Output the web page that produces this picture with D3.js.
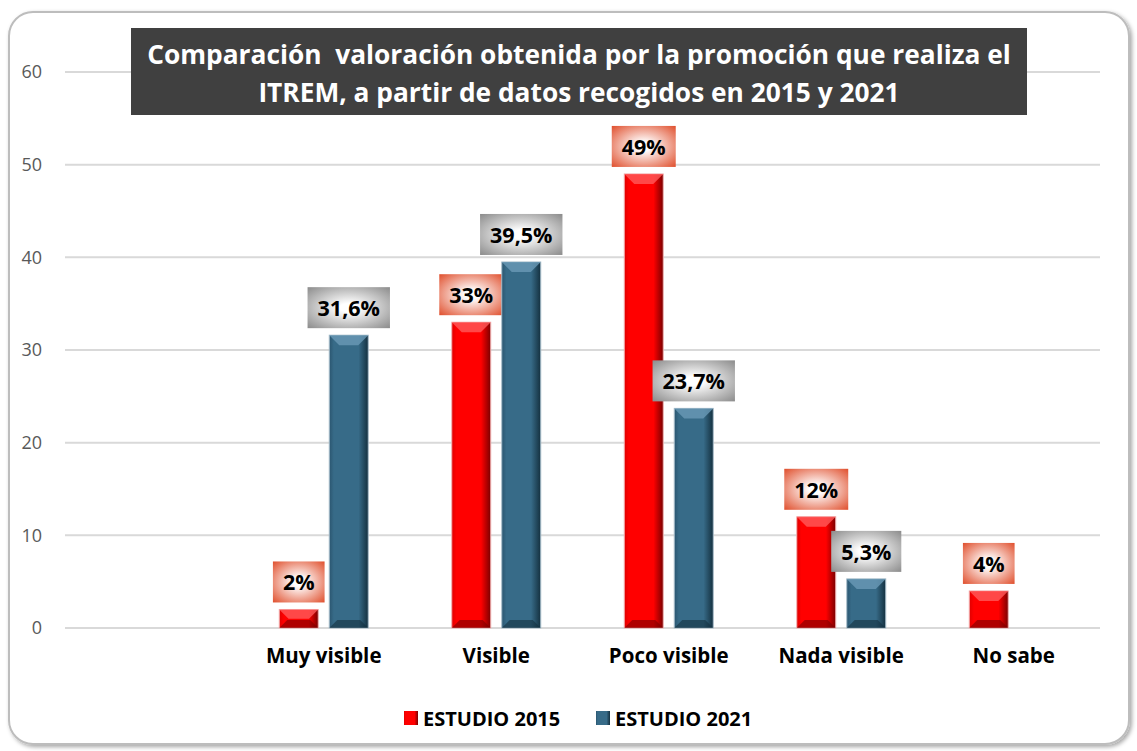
<!DOCTYPE html>
<html>
<head>
<meta charset="utf-8">
<script src="https://cdn.jsdelivr.net/npm/d3@7"></script>
<style>
  body { margin: 0; background: #ffffff; }
  svg text { font-family: "Open Sans", Lato, sans-serif; }
</style>
</head>
<body>
<div id="chart"></div>
<script>
// categories (first band is empty in the original sheet)
var categories = ["", "Muy visible", "Visible", "Poco visible", "Nada visible", "No sabe"];
var seriesNames = ["ESTUDIO 2015", "ESTUDIO 2021"];
var values2015 = [null, 2, 33, 49, 12, 4];
var values2021 = [null, 31.6, 39.5, 23.7, 5.3, null];
var labels2015 = ["", "2%", "33%", "49%", "12%", "4%"];
var labels2021 = ["", "31,6%", "39,5%", "23,7%", "5,3%", ""];
var yTicks = [0, 10, 20, 30, 40, 50, 60];
var titleLines = ["Comparación  valoración obtenida por la promoción que realiza el",
                  "ITREM, a partir de datos recogidos en 2015 y 2021"];

var W = 1137, H = 751;
var margin = {top: 72, right: 30, bottom: 123, left: 65};

var svg = d3.select("#chart").append("svg")
    .attr("width", W)
    .attr("height", H);

var defs = svg.append("defs");

// frame shadow
var shadow = defs.append("filter").attr("id", "shadow")
    .attr("x", "-5%").attr("y", "-5%").attr("width", "110%").attr("height", "110%");
shadow.append("feDropShadow").attr("dx", 2).attr("dy", 2).attr("stdDeviation", 2)
    .attr("flood-color", "#000").attr("flood-opacity", 0.35);

svg.append("rect")
    .attr("x", 9).attr("y", 12)
    .attr("width", 1120).attr("height", 732)
    .attr("rx", 24)
    .attr("fill", "#ffffff")
    .attr("stroke", "#bdbdbd")
    .attr("stroke-width", 2)
    .attr("filter", "url(#shadow)");

//bar gradients: dark on the right edge like the bevel in excel
var palette = [
    {id: "g2015", base: "#ff0000", dark: "#7a0000", light: "#ff5a5a", edge: "#e00000", boxEdge: "#e0502e"},
    {id: "g2021", base: "#376b88", dark: "#14303f", light: "#6a9ab6", edge: "#2b5670", boxEdge: "#8c8c8c"}
];
palette.forEach(function(p) {
    var g = defs.append("linearGradient").attr("id", p.id)
        .attr("x1", "0%").attr("x2", "100%").attr("y1", "0%").attr("y2", "0%");
    g.append("stop").attr("offset", "0%").attr("stop-color", p.edge);
    g.append("stop").attr("offset", "12%").attr("stop-color", p.base);
    g.append("stop").attr("offset", "75%").attr("stop-color", p.base);
    g.append("stop").attr("offset", "100%").attr("stop-color", p.dark);

    var r = defs.append("radialGradient").attr("id", p.id + "box")
        .attr("cx", "50%").attr("cy", "50%").attr("r", "70%");
    r.append("stop").attr("offset", "15%").attr("stop-color", "#ffffff");
    r.append("stop").attr("offset", "100%").attr("stop-color", p.boxEdge);
});

var plotW = W - margin.left - margin.right - 7;
var plotH = H - margin.top - margin.bottom;
var g = svg.append("g").attr("transform", "translate(" + margin.left + "," + margin.top + ")");

var x = d3.scaleBand().domain(categories).range([0, plotW]).paddingInner(0).paddingOuter(0);
var x1 = d3.scaleBand().domain(seriesNames)
    .range([x.bandwidth() / 2 - 44.5, x.bandwidth() / 2 + 44.5])
    .paddingInner(0.22).paddingOuter(0);
var y = d3.scaleLinear().domain([0, 60]).range([plotH, 0]);

// gridlines
g.append("g")
    .selectAll("line")
    .data(yTicks)
    .enter().append("line")
    .attr("x1", 0).attr("x2", plotW)
    .attr("y1", function(d) { return y(d); })
    .attr("y2", function(d) { return y(d); })
    .attr("stroke", "#d9d9d9")
    .attr("stroke-width", 2);

// y axis labels
var yAxis = g.append("g")
    .call(d3.axisLeft(y).tickValues(yTicks).tickSize(0).tickPadding(23));
yAxis.select(".domain").remove();
yAxis.selectAll("text")
    .attr("font-size", 18)
    .attr("fill", "#595959")
    .style("font-family", "'Open Sans', Lato, sans-serif");

// x axis labels
var xAxis = g.append("g")
    .attr("transform", "translate(0," + plotH + ")")
    .call(d3.axisBottom(x).tickSize(0).tickPadding(20));
xAxis.select(".domain").remove();
xAxis.selectAll("text")
    .attr("font-size", 20.5)
    .attr("font-weight", "bold")
    .attr("fill", "#000")
    .style("font-family", "'Open Sans', Lato, sans-serif");

// flatten series
var barData = [];
categories.forEach(function(c, i) {
    [values2015, values2021].forEach(function(vals, s) {
        if (vals[i] == null) return;
        barData.push({cat: c, series: seriesNames[s], s: s, value: vals[i],
                      label: s === 0 ? labels2015[i] : labels2021[i]});
    });
});

var bw = x1.bandwidth();
var bars = g.selectAll(".bar")
    .data(barData)
    .enter().append("g")
    .attr("class", "bar")
    .attr("transform", function(d) {
        return "translate(" + (x(d.cat) + x1(d.series)) + ",0)";
    });

bars.append("rect")
    .attr("x", 0)
    .attr("y", function(d) { return y(d.value); })
    .attr("width", bw)
    .attr("height", function(d) { return plotH - y(d.value); })
    .attr("fill", function(d) { return "url(#" + palette[d.s].id + ")"; })
    .attr("stroke", function(d) { return d.s === 0 ? "#f2b4b4" : "#a9bfcc"; })
    .attr("stroke-width", 1);

// top bevel highlight
bars.append("path")
    .attr("d", function(d) {
        var t = y(d.value), h = Math.min(10, (plotH - t) / 2);
        return "M0," + t + "L" + bw + "," + t + "L" + (bw - h) + "," + (t + h) + "L" + h + "," + (t + h) + "Z";
    })
    .attr("fill", function(d) { return palette[d.s].light; })
    .attr("opacity", 0.8);

// bottom bevel shade
bars.append("path")
    .attr("d", function(d) {
        var t = y(d.value), h = Math.min(8, (plotH - t) / 2);
        return "M0," + plotH + "L" + bw + "," + plotH + "L" + (bw - h) + "," + (plotH - h) + "L" + h + "," + (plotH - h) + "Z";
    })
    .attr("fill", function(d) { return palette[d.s].dark; })
    .attr("opacity", 0.6);

// value labels with gradient boxes
bars.each(function(d) {
    var b = d3.select(this);
    var txt = b.append("text")
        .attr("x", bw / 2)
        .attr("y", y(d.value) - 19)
        .attr("text-anchor", "middle")
        .attr("font-size", 21.5)
        .attr("font-weight", "bold")
        .attr("fill", "#000")
        .text(d.label);
    var tw = txt.node().getComputedTextLength();
    b.insert("rect", "text")
        .attr("x", bw / 2 - tw / 2 - 10)
        .attr("y", y(d.value) - 48)
        .attr("width", tw + 20)
        .attr("height", 41)
        .attr("fill", "url(#" + palette[d.s].id + "box)");
});

// title box
svg.append("rect")
    .attr("x", 131).attr("y", 28)
    .attr("width", 896).attr("height", 87)
    .attr("fill", "#404040");
svg.append("g").selectAll("text")
    .data(titleLines)
    .enter().append("text")
    .attr("x", 579)
    .attr("y", function(d, i) { return 64 + i * 38; })
    .attr("text-anchor", "middle")
    .attr("font-size", 26.3)
    .attr("font-weight", "bold")
    .attr("fill", "#ffffff")
    .style("white-space", "pre")
    .text(function(d) { return d; });

// legend
var legendX = [404, 596];
var legend = svg.append("g").selectAll("g")
    .data(seriesNames)
    .enter().append("g")
    .attr("transform", function(d, i) { return "translate(" + legendX[i] + ",711)"; });
legend.append("rect")
    .attr("width", 14).attr("height", 14)
    .attr("fill", function(d, i) { return "url(#" + palette[i].id + ")"; });
legend.append("text")
    .attr("x", 19).attr("y", 14.5)
    .attr("font-size", 20)
    .attr("font-weight", "bold")
    .attr("fill", "#000")
    .text(function(d) { return d; });
</script>
</body>
</html>
